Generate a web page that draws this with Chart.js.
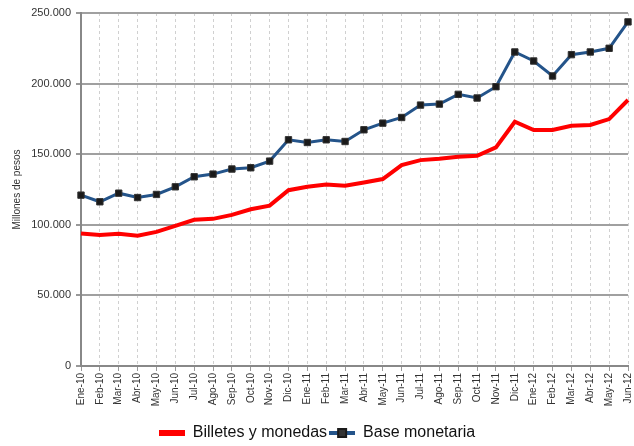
<!DOCTYPE html>
<html><head><meta charset="utf-8">
<script src="https://cdn.jsdelivr.net/npm/chart.js@4"></script>
<style>html,body{margin:0;padding:0;background:#fff}#wrap{width:634px;height:446px}</style>
</head><body><div id="wrap"><canvas id="c" width="634" height="446"></canvas></div>
<script>
const categories = ["Ene-10","Feb-10","Mar-10","Abr-10","May-10","Jun-10","Jul-10","Ago-10","Sep-10","Oct-10","Nov-10","Dic-10",
"Ene-11","Feb-11","Mar-11","Abr-11","May-11","Jun-11","Jul-11","Ago-11","Sep-11","Oct-11","Nov-11","Dic-11",
"Ene-12","Feb-12","Mar-12","Abr-12","May-12","Jun-12"];
const billetesYMonedas = [93800,92700,93600,92200,95000,99300,103500,104200,107000,111000,113600,124500,
127000,128500,127600,130000,132400,142300,145800,146800,148200,148900,154800,173000,
167100,167100,170200,170700,174900,188400];
const baseMonetaria = [121000,116300,122400,119300,121500,126900,134000,135900,139500,140400,145100,160200,
158300,160200,159000,167300,172000,176000,184800,185500,192400,189800,197800,222400,
216000,205400,220500,222400,225000,243700];
const yTicks = [0,50000,100000,150000,200000,250000];
const seriesNames = ["Billetes y monedas","Base monetaria"];
const yTitle = "Millones de pesos";

const FONT = "'Liberation Sans',Arial,sans-serif";
function fmt(v){return String(v).replace(/\B(?=(\d{3})+(?!\d))/g,'.');}

function iconRed(){const c=document.createElement('canvas');c.width=26;c.height=8;const x=c.getContext('2d');x.fillStyle='#ff0000';x.fillRect(0,1,26,6);return c;}
function iconBlue(){const c=document.createElement('canvas');c.width=26;c.height=10;const x=c.getContext('2d');x.fillStyle='#24548a';x.fillRect(0,3,26,4);x.fillStyle='#1a1a1a';x.fillRect(8,0,10,10);x.fillStyle='#333';x.fillRect(10,2,6,6);return c;}
const icons=[iconRed(),iconBlue()];

const shiftLegend={id:'shiftLegend',afterLayout(chart){if(chart.legend){chart.legend.top+=5;chart.legend.bottom+=5;}}};

new Chart(document.getElementById('c'),{
  type:'line',
  data:{labels:categories,datasets:[
    {label:seriesNames[0],data:billetesYMonedas,borderColor:'#ff0000',backgroundColor:'#ff0000',borderWidth:4,pointRadius:0,tension:0},
    {label:seriesNames[1],data:baseMonetaria,borderColor:'#24548a',backgroundColor:'#1a1a1a',borderWidth:3,pointStyle:'rect',pointRadius:4.5,pointBorderColor:'#333',pointBorderWidth:1,pointBackgroundColor:'#1a1a1a',tension:0}
  ]},
  plugins:[shiftLegend],
  options:{
    responsive:false,animation:false,
    layout:{padding:{left:6,right:6,top:13,bottom:0}},
    plugins:{
      tooltip:{enabled:false},
      legend:{position:'bottom',
        labels:{usePointStyle:true,pointStyleWidth:26,padding:2,color:'#111',font:{family:FONT,size:16},
          generateLabels:(chart)=>{const l=Chart.defaults.plugins.legend.labels.generateLabels(chart);l.forEach((it)=>{it.pointStyle=icons[it.datasetIndex];});return l;}}
      }
    },
    scales:{
      x:{
        grid:{color:'#d0d0d0',lineWidth:1,tickLength:5,tickColor:'#999',drawTicks:true},
        border:{color:'#888',width:2,dash:[3,3]},
        ticks:{color:'#333',font:{family:FONT,size:10},minRotation:90,maxRotation:90,autoSkip:false,padding:2},
        afterFit:(s)=>{s.height=52;s.paddingLeft=0;s.paddingRight=0;}
      },
      y:{
        min:0,max:250000,
        afterBuildTicks:(s)=>{s.ticks=yTicks.map(v=>({value:v}));},
        grid:{color:'#a0a0a0',lineWidth:2,tickLength:5,tickColor:'#999'},
        border:{color:'#888',width:2},
        ticks:{color:'#333',font:{family:FONT,size:11},callback:(v)=>fmt(v),padding:5},
        title:{display:true,text:yTitle,color:'#333',font:{family:FONT,size:10},padding:{top:5,bottom:4}},
        afterFit:(s)=>{s.width=75;}
      }
    }
  }
});
</script></body></html>
